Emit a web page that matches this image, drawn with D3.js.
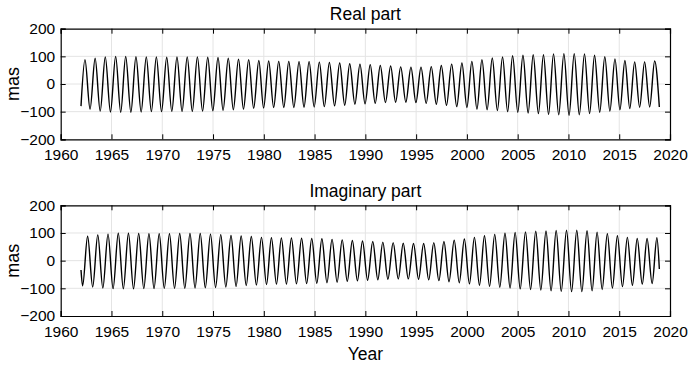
<!DOCTYPE html>
<html>
<head>
<meta charset="utf-8">
<script src="https://cdn.jsdelivr.net/npm/d3@7/dist/d3.min.js"></script>
<style>
  html, body { margin: 0; padding: 0; background: #fff; }
  svg { display: block; }
  text { font-family: "Liberation Sans", Arial, Helvetica, sans-serif; fill: #000; }
</style>
</head>
<body>
<svg id="chart" width="691" height="367"></svg>
<script>
// ---------------- DATA ----------------
const xTicks = [1960, 1965, 1970, 1975, 1980, 1985, 1990, 1995, 2000, 2005, 2010, 2015, 2020];
const yTicks = [-200, -100, 0, 100, 200];
const panelTitles = ["Real part", "Imaginary part"];

// Real part: start, maxima, minima, end
const realStart = [1962.00, -80];
const realEnd = [2018.95, -83];
const realPeakYears = [1962.39, 1963.39, 1964.39, 1965.41, 1966.40, 1967.41, 1968.43, 1969.42, 1970.44, 1971.45,
  1972.46, 1973.46, 1974.48, 1975.49, 1976.50, 1977.51, 1978.51, 1979.51, 1980.48, 1981.47,
  1982.46, 1983.47, 1984.46, 1985.47, 1986.46, 1987.47, 1988.46, 1989.47, 1990.48, 1991.47,
  1992.49, 1993.48, 1994.49, 1995.48, 1996.49, 1997.48, 1998.50, 1999.51, 2000.49, 2001.48,
  2002.50, 2003.51, 2004.50, 2005.52, 2006.53, 2007.54, 2008.53, 2009.55, 2010.57, 2011.58,
  2012.57, 2013.58, 2014.58, 2015.56, 2016.52, 2017.50, 2018.49];
const realPeakValues = [88, 93, 98, 100, 100, 99, 98, 98, 97, 98,
  98, 98, 97, 96, 93, 90, 88, 85, 83, 82,
  82, 81, 81, 79, 78, 76, 73, 72, 70, 67,
  65, 62, 61, 61, 63, 67, 72, 76, 82, 88,
  94, 98, 102, 104, 106, 106, 109, 110, 110, 109,
  104, 99, 91, 85, 80, 80, 83];
const realTroughYears = [1962.89, 1963.89, 1964.90, 1965.91, 1966.91, 1967.92, 1968.93, 1969.93, 1970.94, 1971.95,
  1972.96, 1973.97, 1974.98, 1975.99, 1977.00, 1978.00, 1979.00, 1979.98, 1980.97, 1981.97,
  1982.96, 1983.96, 1984.96, 1985.96, 1986.97, 1987.97, 1988.97, 1989.97, 1990.97, 1991.98,
  1992.98, 1993.99, 1994.98, 1995.99, 1996.99, 1997.99, 1999.00, 2000.00, 2000.99, 2001.99,
  2003.00, 2004.01, 2005.01, 2006.03, 2007.04, 2008.04, 2009.04, 2010.06, 2011.07, 2012.08,
  2013.08, 2014.08, 2015.07, 2016.04, 2017.01, 2018.00];
const realTroughValues = [-91, -98, -101, -102, -102, -101, -100, -100, -99, -99,
  -99, -98, -97, -95, -93, -91, -88, -87, -85, -85,
  -85, -84, -83, -82, -79, -77, -73, -72, -70, -67,
  -66, -66, -67, -70, -73, -77, -82, -85, -91, -93,
  -96, -100, -102, -105, -107, -110, -111, -113, -111, -107,
  -102, -98, -93, -89, -84, -83];

// Imaginary part: start, minima, maxima, end
const imagStart = [1962.00, -34];
const imagEnd = [2018.95, -30];
const imagPeakYears = [1962.65, 1963.65, 1964.66, 1965.67, 1966.67, 1967.68, 1968.69, 1969.70, 1970.71, 1971.72,
  1972.73, 1973.74, 1974.75, 1975.76, 1976.77, 1977.77, 1978.77, 1979.77, 1980.75, 1981.73,
  1982.72, 1983.72, 1984.72, 1985.72, 1986.72, 1987.72, 1988.72, 1989.72, 1990.73, 1991.72,
  1992.74, 1993.73, 1994.74, 1995.74, 1996.74, 1997.74, 1998.75, 1999.75, 2000.74, 2001.73,
  2002.74, 2003.75, 2004.75, 2005.77, 2006.78, 2007.79, 2008.79, 2009.81, 2010.82, 2011.83,
  2012.82, 2013.83, 2014.82, 2015.80, 2016.77, 2017.74, 2018.71];
const imagPeakValues = [88, 93, 96, 99, 99, 98, 97, 97, 97, 98,
  98, 98, 96, 94, 91, 89, 87, 84, 83, 82,
  82, 81, 80, 79, 77, 75, 73, 71, 69, 67,
  65, 63, 62, 62, 65, 69, 74, 78, 84, 90,
  95, 99, 102, 104, 106, 107, 109, 110, 110, 108,
  103, 97, 90, 84, 80, 80, 83];
const imagTroughYears = [1962.16, 1963.15, 1964.15, 1965.16, 1966.17, 1967.17, 1968.18, 1969.19, 1970.20, 1971.21,
  1972.22, 1973.23, 1974.24, 1975.25, 1976.26, 1977.27, 1978.27, 1979.27, 1980.27, 1981.25,
  1982.23, 1983.22, 1984.22, 1985.22, 1986.22, 1987.22, 1988.22, 1989.22, 1990.22, 1991.23,
  1992.22, 1993.24, 1994.23, 1995.24, 1996.24, 1997.24, 1998.24, 1999.25, 2000.25, 2001.24,
  2002.23, 2003.24, 2004.25, 2005.25, 2006.27, 2007.28, 2008.29, 2009.29, 2010.31, 2011.32,
  2012.33, 2013.32, 2014.33, 2015.32, 2016.30, 2017.27, 2018.24];
const imagTroughValues = [-91, -95, -99, -101, -102, -102, -101, -101, -100, -100,
  -100, -99, -98, -97, -95, -93, -90, -88, -86, -85,
  -85, -84, -83, -82, -80, -78, -75, -73, -71, -69,
  -67, -66, -66, -67, -69, -72, -76, -80, -84, -89,
  -93, -96, -99, -102, -104, -106, -109, -111, -112, -112,
  -109, -104, -99, -94, -89, -85, -83];

// ---------------- DRAWING ----------------
const svg = d3.select("#chart");
const W = 691, H = 367;
svg.append("rect").attr("width", W).attr("height", H).attr("fill", "#fff");

const left = 60.7, right = 670;
const panels = [
  { top: 28.7, bottom: 139.3, title: panelTitles[0], titleY: 19.5,
    start: realStart, end: realEnd,
    peaks: realPeakYears.map((y, i) => [y, realPeakValues[i]]),
    troughs: realTroughYears.map((y, i) => [y, realTroughValues[i]]) },
  { top: 205.3, bottom: 316, title: panelTitles[1], titleY: 196.5,
    start: imagStart, end: imagEnd,
    peaks: imagPeakYears.map((y, i) => [y, imagPeakValues[i]]),
    troughs: imagTroughYears.map((y, i) => [y, imagTroughValues[i]]) }
];

const x = d3.scaleLinear().domain([1960, 2020]).range([left, right]);
const tickFont = "15.5px";

panels.forEach(p => {
  const y = d3.scaleLinear().domain([-200, 200]).range([p.bottom, p.top]);
  const g = svg.append("g");

  // grid
  g.append("g").selectAll("line.vx").data(xTicks.slice(1, -1)).join("line")
    .attr("x1", d => x(d)).attr("x2", d => x(d))
    .attr("y1", p.top).attr("y2", p.bottom)
    .attr("stroke", "#e4e4e4").attr("stroke-width", 1);
  g.append("g").selectAll("line.hy").data(yTicks.slice(1, -1)).join("line")
    .attr("x1", left).attr("x2", right)
    .attr("y1", d => y(d)).attr("y2", d => y(d))
    .attr("stroke", "#e4e4e4").attr("stroke-width", 1);

  // data line
  const pts = [p.start, ...p.peaks, ...p.troughs, p.end].sort((a, b) => a[0] - b[0]);
  const line = d3.line().x(d => x(d[0])).y(d => y(d[1])).curve(d3.curveMonotoneX);
  g.append("path").attr("d", line(pts))
    .attr("fill", "none").attr("stroke", "#000").attr("stroke-width", 1.4)
    .attr("stroke-linejoin", "round");

  // axes
  const ax = d3.axisBottom(x).tickValues(xTicks).tickFormat(d3.format("d"))
    .tickSize(-5).tickPadding(9.5);
  const gx = g.append("g").attr("transform", `translate(0,${p.bottom})`).call(ax);
  const axT = d3.axisTop(x).tickValues(xTicks).tickFormat("").tickSize(-5);
  const gxt = g.append("g").attr("transform", `translate(0,${p.top})`).call(axT);
  const ay = d3.axisLeft(y).tickValues(yTicks).tickFormat(d3.format("d"))
    .tickSize(-5).tickPadding(5.5);
  const gy = g.append("g").attr("transform", `translate(${left},0)`).call(ay);
  const ayR = d3.axisRight(y).tickValues(yTicks).tickFormat("").tickSize(-5);
  const gyr = g.append("g").attr("transform", `translate(${right},0)`).call(ayR);

  [gx, gxt, gy, gyr].forEach(a => {
    a.select(".domain").attr("stroke", "#000").attr("stroke-width", 1.2);
    a.selectAll(".tick line").attr("stroke", "#000").attr("stroke-width", 1);
    a.selectAll("text").style("font-family", '"Liberation Sans", Arial, sans-serif')
      .style("font-size", tickFont).attr("fill", "#000");
  });

  // title
  svg.append("text").attr("x", (left + right) / 2).attr("y", p.titleY)
    .attr("text-anchor", "middle").style("font-size", "17.5px").text(p.title);

  // y label
  svg.append("text")
    .attr("transform", `translate(18.5,${(p.top + p.bottom) / 2}) rotate(-90)`)
    .attr("text-anchor", "middle").style("font-size", "18px").text("mas");
});

svg.append("text").attr("x", (left + right) / 2).attr("y", 360)
  .attr("text-anchor", "middle").style("font-size", "17.5px").text("Year");
</script>
</body>
</html>
